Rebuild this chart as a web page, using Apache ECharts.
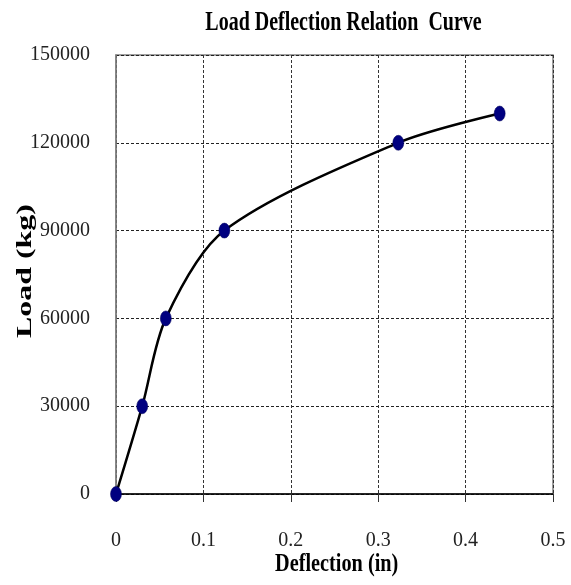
<!DOCTYPE html>
<html>
<head>
<meta charset="utf-8">
<script src="https://cdn.jsdelivr.net/npm/echarts@6/dist/echarts.min.js"></script>
<style>
html,body{margin:0;padding:0;background:#fff;}
#chart{width:571px;height:585px;}
</style>
</head>
<body>
<div id="chart"></div>
<script>
var deflection = [0, 0.030, 0.057, 0.124, 0.323, 0.439];
var load = [0, 30000, 60000, 90000, 120000, 130000];
var titleText = 'Load Deflection Relation  Curve';
var xName = 'Deflection (in)';
var yName = 'Load (kg)';

var points = deflection.map(function (d, i) { return [d, load[i]]; });
var serif = '"Liberation Serif", "Times New Roman", serif';

var chart = echarts.init(document.getElementById('chart'));
chart.setOption({
  animation: false,
  backgroundColor: '#fff',
  grid: {left: 116, right: 18, top: 55, bottom: 91, show: true, borderColor: '#808080', borderWidth: 1.5},
  xAxis: {
    type: 'value', min: 0, max: 0.5, interval: 0.1,
    axisLine: {show: true, onZero: false, lineStyle: {color: '#000', width: 1.5}},
    axisTick: {show: true, inside: false, length: 8, lineStyle: {color: '#333'}},
    axisLabel: {margin: 37, fontFamily: serif, fontSize: 20, color: '#222',
      formatter: function (v) { return String(Math.round(v * 10) / 10); }},
    splitLine: {show: true, lineStyle: {color: '#333', type: [3, 2], width: 1}}
  },
  yAxis: {
    type: 'value', min: 0, max: 150000, interval: 30000,
    axisLine: {show: true, lineStyle: {color: '#808080', width: 1.5}},
    axisTick: {show: false},
    axisLabel: {margin: 26, fontFamily: serif, fontSize: 20, color: '#222',
      formatter: function (v) { return String(v); }},
    splitLine: {show: true, lineStyle: {color: '#222', type: [3, 2], width: 1}}
  },
  graphic: [
    {type: 'text', x: 343.5, y: 23, scaleX: 0.74,
      style: {text: titleText, font: 'bold 27px ' + serif, fill: '#000', align: 'center', verticalAlign: 'middle'}},
    {type: 'text', x: 336.7, y: 565, scaleX: 0.81,
      style: {text: xName, font: 'bold 25px ' + serif, fill: '#000', align: 'center', verticalAlign: 'middle'}},
    {type: 'text', x: 25, y: 271, rotation: Math.PI / 2, scaleX: 1.45,
      style: {text: yName, font: 'bold 22px ' + serif, fill: '#000', align: 'center', verticalAlign: 'middle'}}
  ],
  series: [{
    type: 'line',
    data: points,
    smooth: 0.3,
    symbol: 'circle',
    symbolSize: [11, 15],
    lineStyle: {color: '#000', width: 2.5},
    itemStyle: {color: '#000080', borderColor: '#00005a', borderWidth: 0.5},
    z: 5
  }]
});
</script>
</body>
</html>
